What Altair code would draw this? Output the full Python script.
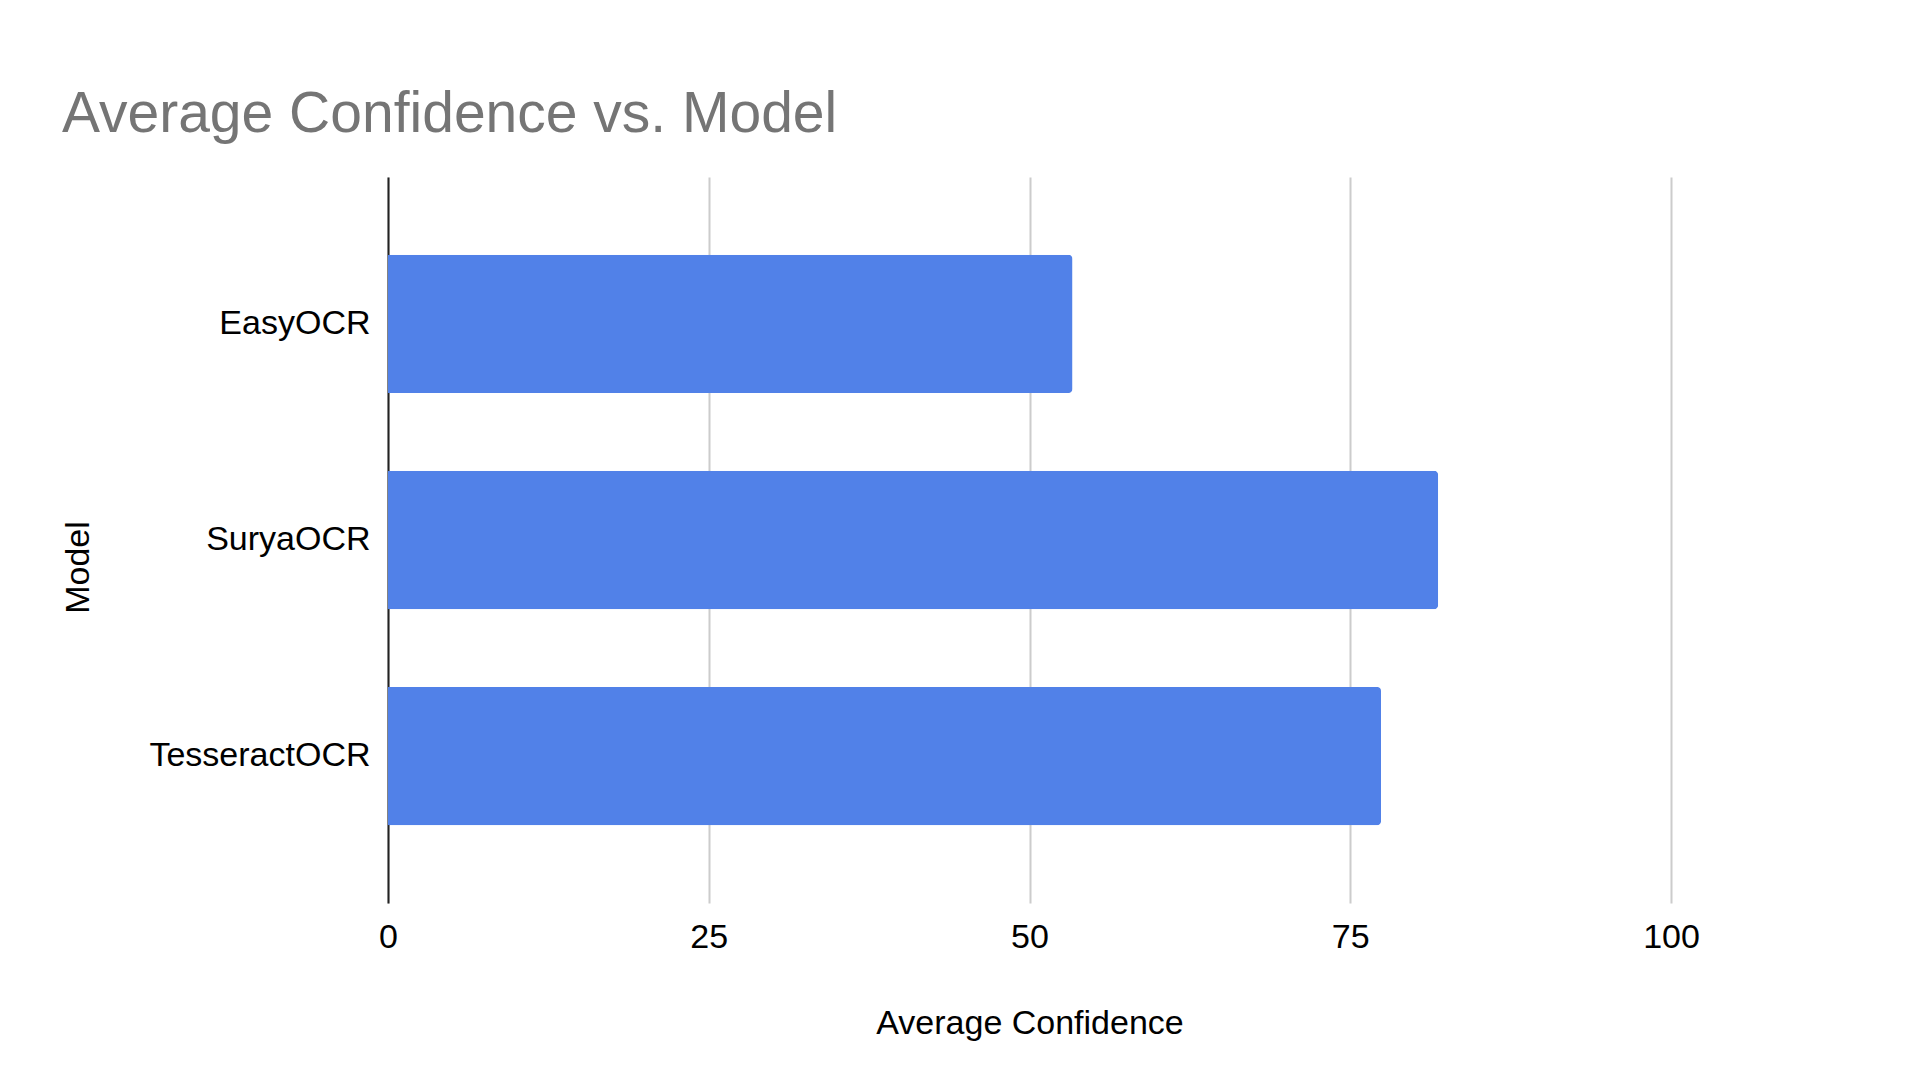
import altair as alt
import pandas as pd

models = ["EasyOCR", "SuryaOCR", "TesseractOCR"]
confidence = [53.35, 81.85, 77.4]
x_ticks = [0, 25, 50, 75, 100]

df = pd.DataFrame({"Model": models, "Average Confidence": confidence})

FONT = "Liberation Sans"

chart = (
    alt.Chart(df)
    .mark_bar(color="#5181e8", cornerRadiusEnd=4)
    .encode(
        x=alt.X(
            "Average Confidence:Q",
            scale=alt.Scale(domain=[0, 100], nice=False),
            axis=alt.Axis(
                values=x_ticks,
                title="Average Confidence",
                domain=False,
                ticks=False,
                tickSize=0,
                labelPadding=17,
                labelFontSize=34,
                labelColor="#000000",
                labelFont=FONT,
                labelFlush=False,
                gridColor="#cccccc",
                gridWidth=2,
                titleFontSize=34,
                titleFont=FONT,
                titleFontWeight="normal",
                titleColor="#000000",
                titleY=130,
                titleBaseline="alphabetic",
            ),
        ),
        y=alt.Y(
            "Model:N",
            sort=models,
            scale=alt.Scale(paddingInner=0.36, paddingOuter=0.36),
            axis=alt.Axis(
                title="Model",
                domain=True,
                domainColor="#222222",
                domainWidth=2,
                ticks=False,
                tickSize=0,
                labelPadding=18,
                labelLimit=0,
                labelFontSize=34,
                labelColor="#000000",
                labelFont=FONT,
                titleFontSize=34,
                titleFont=FONT,
                titleFontWeight="normal",
                titleColor="#000000",
                titleAngle=270,
                titleX=-310,
                titleY=390,
                titleAlign="center",
                titleBaseline="middle",
                grid=False,
            ),
        ),
    )
    .properties(
        width=1283,
        height=726,
        title=alt.TitleParams(
            text="Average Confidence vs. Model",
            anchor="start",
            frame="group",
            fontSize=57,
            font=FONT,
            fontWeight="normal",
            color="#757575",
            baseline="alphabetic",
            offset=46,
            dx=-326,
            dy=58,
        ),
        autosize=alt.AutoSizeParams(type="none"),
        padding={"left": 380, "top": 169, "right": 220, "bottom": 160},
    )
    .configure(background="#ffffff")
    .configure_view(strokeWidth=0, stroke="transparent")
)

chart.save("out.html", embed_options={"renderer": "svg", "actions": False})
